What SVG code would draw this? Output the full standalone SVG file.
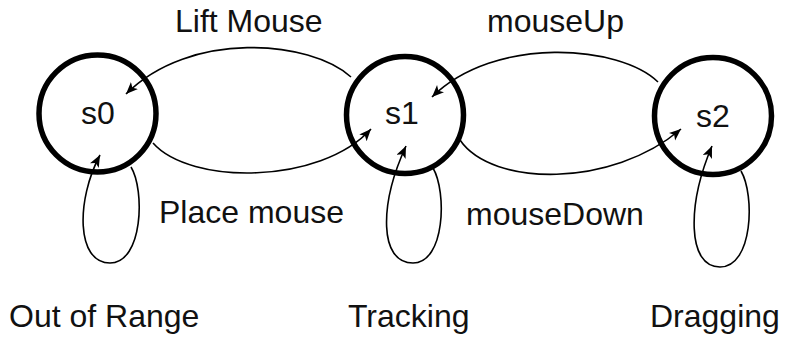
<svg xmlns="http://www.w3.org/2000/svg" width="789" height="339" viewBox="0 0 789 339">
  <defs>
    <marker id="arrow" markerUnits="userSpaceOnUse" markerWidth="13" markerHeight="11" refX="12" refY="5" orient="auto">
      <path d="M0,0 L12,5 L0,10 L3,5 z" fill="#000"/>
    </marker>
    <style>
      .state { fill: none; stroke: #000; stroke-width: 5.5; }
      .edge { fill: none; stroke: #000; stroke-width: 1.6; marker-end: url(#arrow); }
      text { font-family: "Liberation Sans", Arial, sans-serif; font-size: 32px; fill: #111; }
      .mid { text-anchor: middle; }
    </style>
  </defs>

  <rect width="789" height="339" fill="#fff"/>

  <g id="connectors">
    <!-- s1 -> s0 : Lift Mouse -->
    <path class="edge" d="M351,77 C310,40 190,30 126,94"/>
    <!-- s0 -> s1 : Place mouse -->
    <path class="edge" d="M153,143 C190,185 320,185 371,129"/>
    <!-- s2 -> s1 : mouseUp -->
    <path class="edge" d="M658,82 C620,45 495,35 432,97"/>
    <!-- s1 -> s2 : mouseDown -->
    <path class="edge" d="M460,140 C492,187 612,188 681,129"/>
    <!-- self loops -->
    <path class="edge" d="M131,167 C145,190 143,263 110,263 C76,263 76,200 100,155"/>
    <path class="edge" d="M433,168 C447,192 445,263 413,263 C379,263 379,205 406,146"/>
    <path class="edge" d="M741,171 C755,195 753,267 720,267 C687,267 687,205 712,146"/>
  </g>

  <g id="labels">
    <text x="175" y="32">Lift Mouse</text>
    <text x="487" y="32">mouseUp</text>
    <text x="159" y="223">Place mouse</text>
    <text x="466" y="225">mouseDown</text>
  </g>

  <g id="s0">
    <circle class="state" cx="97.5" cy="113.5" r="58.5"/>
    <text class="mid" x="98" y="124">s0</text>
    <text x="9" y="327">Out of Range</text>
  </g>
  <g id="s1">
    <circle class="state" cx="405" cy="115" r="58.5"/>
    <text class="mid" x="402" y="124">s1</text>
    <text x="348" y="327">Tracking</text>
  </g>
  <g id="s2">
    <circle class="state" cx="713" cy="116" r="58.5"/>
    <text class="mid" x="713" y="127">s2</text>
    <text x="650" y="327">Dragging</text>
  </g>
</svg>
